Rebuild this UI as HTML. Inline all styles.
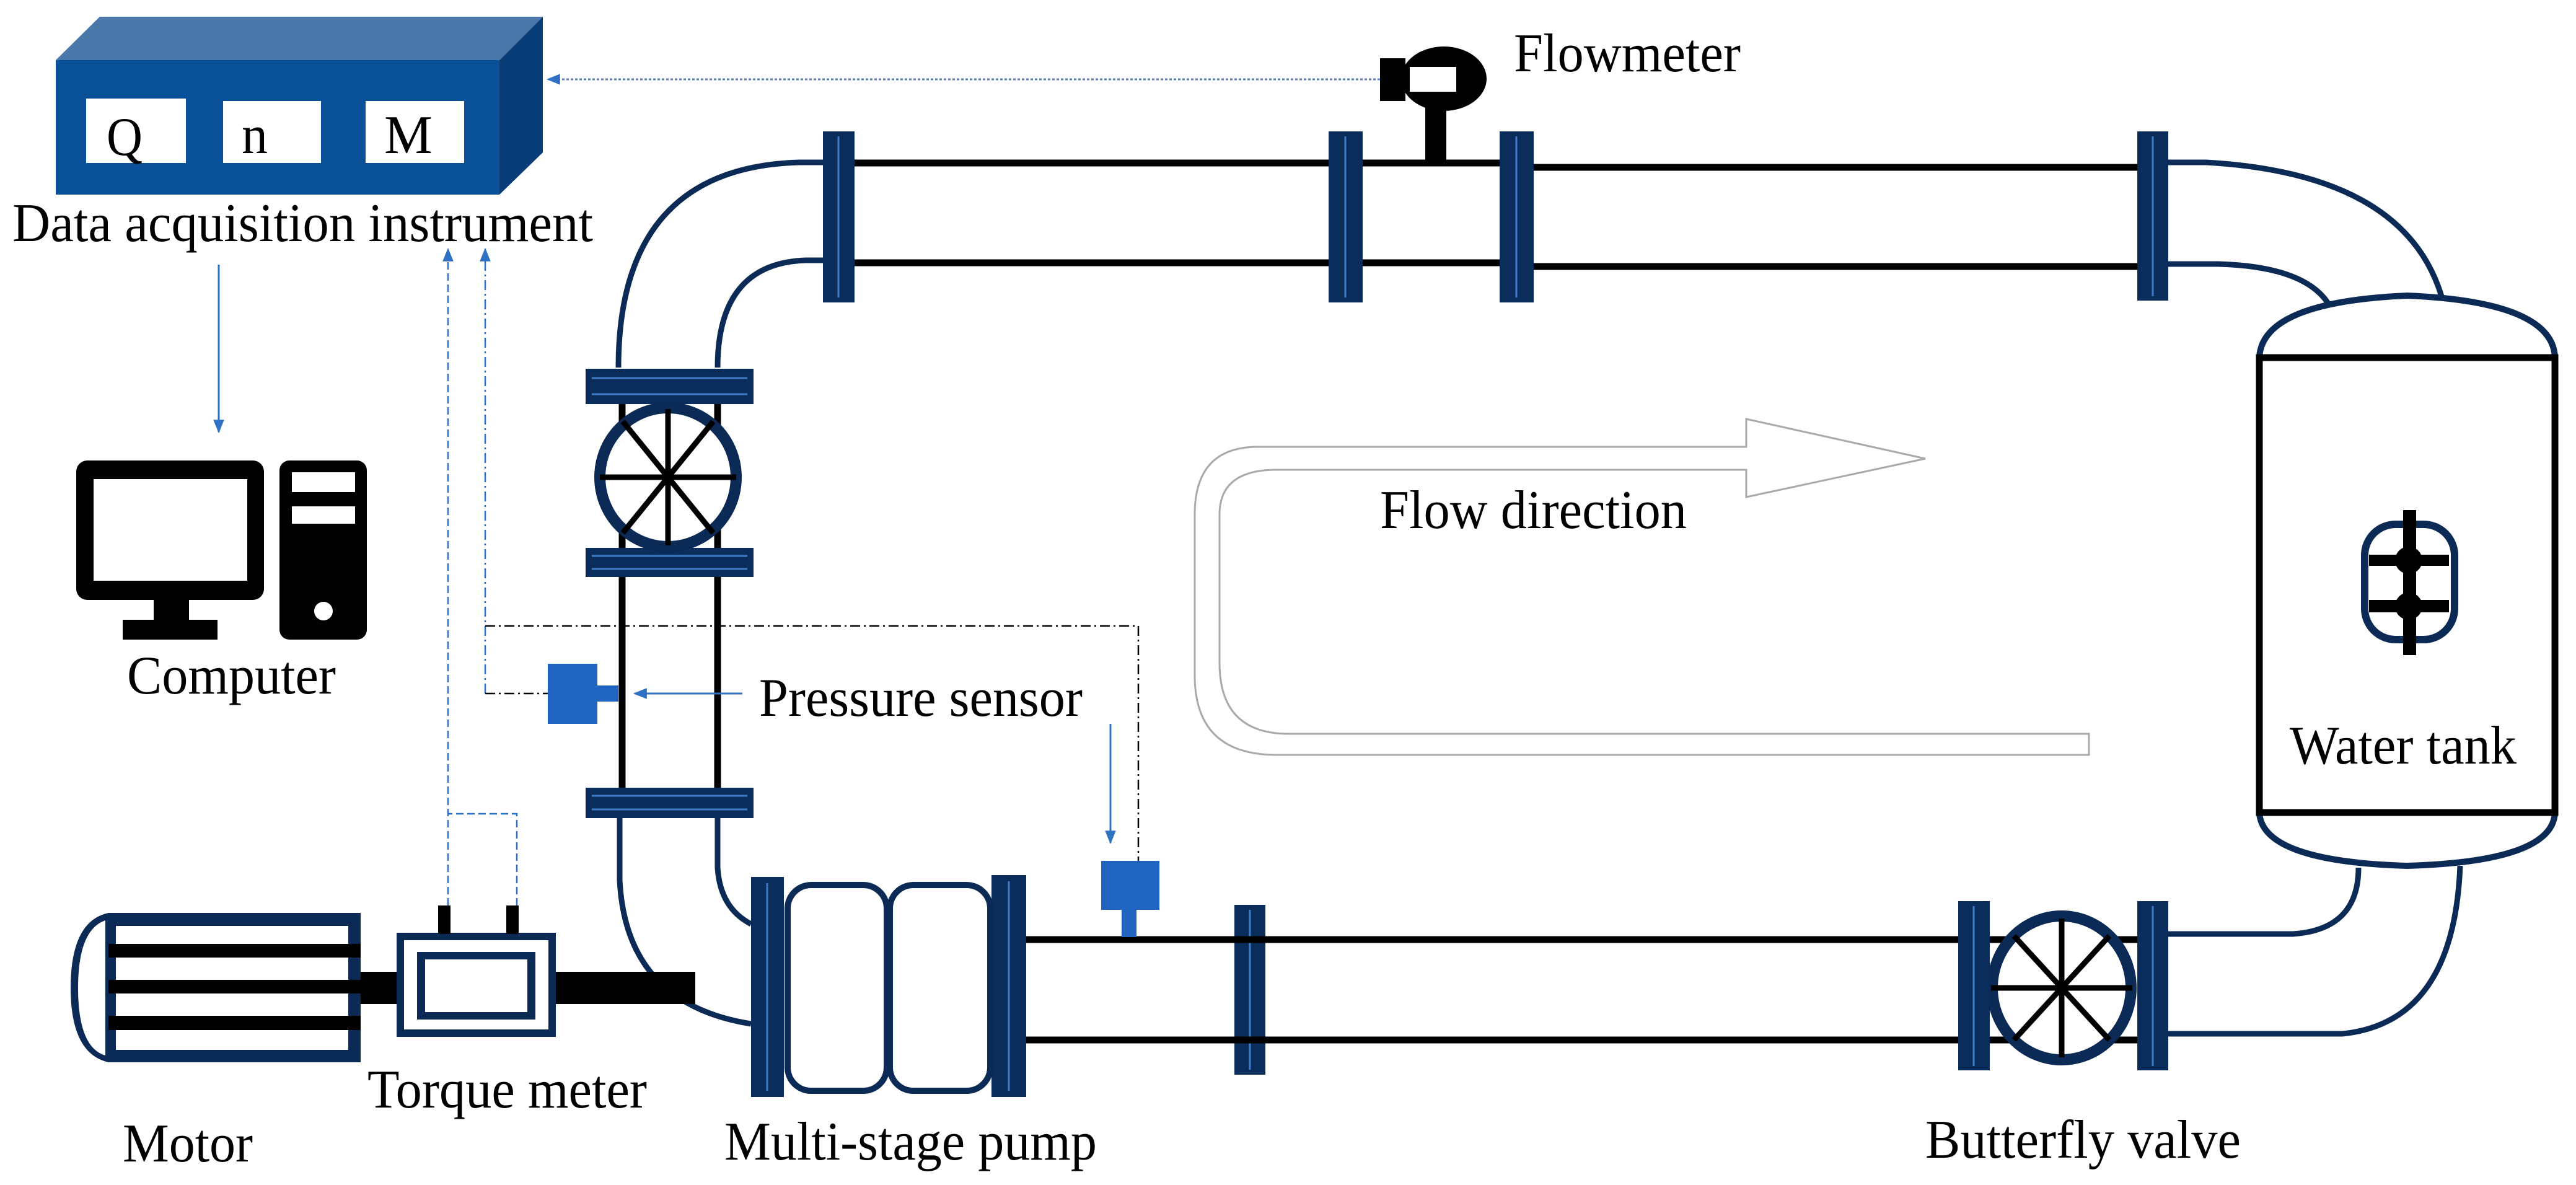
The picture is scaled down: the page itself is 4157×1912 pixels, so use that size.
<!DOCTYPE html>
<html><head><meta charset="utf-8"><style>html,body{margin:0;padding:0;background:#fff}svg{display:block}</style></head>
<body>
<svg xmlns="http://www.w3.org/2000/svg" width="4157" height="1912" viewBox="0 0 4157 1912">
<defs>
<marker id="ah" viewBox="0 0 10 10" refX="9" refY="5" markerWidth="22" markerHeight="22" markerUnits="userSpaceOnUse" orient="auto"><path d="M0,1 L10,5 L0,9 z" fill="#2f72c4"/></marker>
</defs>
<style>
text{font-family:"Liberation Serif",serif;fill:#000;font-size:88px}
.pipe{fill:none;stroke:#0b2a55;stroke-width:9}
.bl{stroke:#000;stroke-width:11;fill:none}
</style>

<!-- DAQ box -->
<polygon points="90,97 161,27 876,27 806,97" fill="#4a78ab"/>
<polygon points="806,97 876,27 876,246 806,314" fill="#083d78"/>
<rect x="90" y="97" width="716" height="217" fill="#0a519a"/>
<rect x="139" y="159" width="161" height="104" fill="#fff"/>
<rect x="360" y="163" width="158" height="100" fill="#fff"/>
<rect x="590" y="163" width="159" height="100" fill="#fff"/>
<text x="172" y="250" font-size="110" textLength="58" lengthAdjust="spacingAndGlyphs">Q</text>
<text x="390" y="247" font-size="110" textLength="42" lengthAdjust="spacingAndGlyphs">n</text>
<text x="620" y="247" font-size="110" textLength="78" lengthAdjust="spacingAndGlyphs">M</text>
<text x="20" y="389" font-size="92" textLength="937" lengthAdjust="spacingAndGlyphs">Data acquisition instrument</text>

<!-- arrow from flowmeter -->
<line x1="2227" y1="128" x2="884" y2="128" stroke="#5a7fb5" stroke-width="3" stroke-dasharray="4,3" marker-end="url(#ah)"/>
<!-- DAQ to computer -->
<line x1="353" y1="427" x2="353" y2="697" stroke="#2f72c4" stroke-width="3" marker-end="url(#ah)"/>

<!-- dashed verticals -->
<line x1="723" y1="1461" x2="723" y2="402" stroke="#2f72c4" stroke-width="2.5" stroke-dasharray="12,6" marker-end="url(#ah)"/>
<polyline points="834,1461 834,1313 723,1313" fill="none" stroke="#2f72c4" stroke-width="2.5" stroke-dasharray="12,6"/>
<line x1="783" y1="1119" x2="783" y2="402" stroke="#2f72c4" stroke-width="2.5" stroke-dasharray="16,6,3,6" marker-end="url(#ah)"/>
<polyline points="783,1119 884,1119" fill="none" stroke="#000" stroke-width="2.5" stroke-dasharray="16,6,3,6"/>
<polyline points="783,1010 1837,1010 1837,1389" fill="none" stroke="#000" stroke-width="2.5" stroke-dasharray="16,6,3,6"/>

<!-- Computer -->
<rect x="123" y="743" width="303" height="225" rx="18" fill="#000"/>
<rect x="151" y="773" width="248" height="164" fill="#fff"/>
<rect x="248" y="968" width="57" height="40" fill="#000"/>
<rect x="198" y="1000" width="153" height="32" fill="#000"/>
<rect x="451" y="743" width="141" height="289" rx="16" fill="#000"/>
<rect x="471" y="762" width="102" height="32" fill="#fff"/>
<rect x="471" y="817" width="102" height="28" fill="#fff"/>
<circle cx="522" cy="986" r="15" fill="#fff"/>
<text x="205" y="1119" textLength="337" lengthAdjust="spacingAndGlyphs">Computer</text>

<!-- Flowmeter -->
<rect x="2300" y="150" width="34" height="110" fill="#000"/>
<ellipse cx="2330" cy="127" rx="69" ry="52" fill="#000"/>
<rect x="2227" y="94" width="41" height="69" fill="#000"/>
<rect x="2275" y="108" width="75" height="40" fill="#fff"/>
<text x="2443" y="115" textLength="366" lengthAdjust="spacingAndGlyphs">Flowmeter</text>

<!-- Top pipe -->
<line class="bl" x1="1379" y1="263" x2="2420" y2="263"/>
<line class="bl" x1="2475" y1="270" x2="3449" y2="270"/>
<line class="bl" x1="1379" y1="424" x2="2420" y2="424"/>
<line class="bl" x1="2475" y1="430" x2="3449" y2="430"/>
<path class="pipe" d="M1328,262 L1290,262 Q998,270 998,593"/>
<path class="pipe" d="M1328,420 L1300,420 Q1158,425 1158,593"/>
<path class="pipe" d="M3499,262 L3560,262 Q3880,280 3940,478"/>
<path class="pipe" d="M3499,426 L3580,426 Q3720,430 3758,491"/>

<!-- vertical flanges -->
<g fill="#0a2d5c">
<rect x="1328" y="212" width="51" height="276"/>
<rect x="2144" y="212" width="55" height="276"/>
<rect x="2420" y="212" width="55" height="276"/>
<rect x="3449" y="212" width="50" height="273"/>
<rect x="1992" y="1460" width="50" height="274"/>
<rect x="1212" y="1415" width="53" height="355"/>
<rect x="1600" y="1412" width="56" height="358"/>
</g>
<g stroke="#3f7bc8" stroke-width="3">
<line x1="1353" y1="220" x2="1353" y2="480"/>
<line x1="2171" y1="220" x2="2171" y2="480"/>
<line x1="2447" y1="220" x2="2447" y2="480"/>
<line x1="3474" y1="220" x2="3474" y2="478"/>
<line x1="2017" y1="1468" x2="2017" y2="1726"/>
<line x1="1238" y1="1425" x2="1238" y2="1760"/>
<line x1="1628" y1="1422" x2="1628" y2="1760"/>
</g>

<!-- Left vertical pipe with valve -->
<line class="bl" x1="1004" y1="652" x2="1004" y2="1271"/>
<line class="bl" x1="1158" y1="652" x2="1158" y2="1271"/>
<rect x="945" y="595" width="271" height="57" fill="#0a2d5c"/>
<rect x="945" y="884" width="271" height="47" fill="#0a2d5c"/>
<rect x="945" y="1271" width="271" height="49" fill="#0a2d5c"/>
<g stroke="#3f7bc8" stroke-width="3">
<line x1="955" y1="610" x2="1206" y2="610"/><line x1="955" y1="636" x2="1206" y2="636"/>
<line x1="955" y1="897" x2="1206" y2="897"/><line x1="955" y1="918" x2="1206" y2="918"/>
<line x1="955" y1="1284" x2="1206" y2="1284"/><line x1="955" y1="1306" x2="1206" y2="1306"/>
</g>
<ellipse cx="1078" cy="770" rx="110" ry="112" fill="#fff" stroke="#0b2a55" stroke-width="18"/>
<g stroke="#000" stroke-width="9">
<line x1="1078" y1="660" x2="1078" y2="880"/>
<line x1="968" y1="770" x2="1188" y2="770"/>
<line x1="1005" y1="680" x2="1151" y2="860"/>
<line x1="1151" y1="680" x2="1005" y2="860"/>
</g>

<!-- Lower elbow into pump -->
<path class="pipe" d="M1000,1320 L1000,1420 Q1010,1620 1212,1652"/>
<path class="pipe" d="M1158,1320 L1158,1400 Q1162,1465 1212,1491"/>

<!-- Pressure sensor 1 -->
<rect x="884" y="1071" width="80" height="97" fill="#1e64c0"/>
<rect x="964" y="1106" width="34" height="26" fill="#1e64c0"/>
<line x1="1198" y1="1119" x2="1024" y2="1119" stroke="#2f72c4" stroke-width="3" marker-end="url(#ah)"/>
<text x="1225" y="1155" textLength="522" lengthAdjust="spacingAndGlyphs">Pressure sensor</text>

<!-- Flow direction arrow -->
<path d="M3371,1184 L2080,1184 Q1968,1184 1968,1070 L1968,830 Q1968,758 2060,758 L2818,758 L2818,802 L3107,740 L2818,676 L2818,721 L2030,721 Q1928,721 1928,830 L1928,1090 Q1928,1218 2060,1218 L3371,1218 Z" fill="none" stroke="#aaa" stroke-width="3"/>
<text x="2227" y="852" textLength="495" lengthAdjust="spacingAndGlyphs">Flow direction</text>

<!-- Water tank -->
<path d="M3646,577 Q3650,487 3885,477 Q4120,487 4123,577" fill="#fff" stroke="#0b2a55" stroke-width="10"/>
<path d="M3646,1311 Q3650,1390 3885,1397 Q4120,1390 4123,1311" fill="#fff" stroke="#0b2a55" stroke-width="10"/>
<rect x="3646" y="577" width="477" height="734" fill="#fff" stroke="#000" stroke-width="11"/>
<rect x="3816" y="846" width="145" height="186" rx="50" fill="none" stroke="#0b2a55" stroke-width="12"/>
<circle cx="3887" cy="904" r="22" fill="#000"/>
<circle cx="3887" cy="978" r="22" fill="#000"/>
<rect x="3823" y="895" width="129" height="18" fill="#000"/>
<rect x="3823" y="968" width="129" height="20" fill="#000"/>
<rect x="3878" y="823" width="21" height="234" fill="#000"/>
<text x="3695" y="1232" textLength="366" lengthAdjust="spacingAndGlyphs">Water tank</text>

<!-- Bottom pipe -->
<line class="bl" x1="1656" y1="1516" x2="3449" y2="1516"/>
<line class="bl" x1="1656" y1="1678" x2="3449" y2="1678"/>
<ellipse cx="3327" cy="1594" rx="112" ry="116" fill="#fff" stroke="#0b2a55" stroke-width="18"/>
<g stroke="#000" stroke-width="9">
<line x1="3327" y1="1482" x2="3327" y2="1706"/>
<line x1="3213" y1="1594" x2="3441" y2="1594"/>
<line x1="3250" y1="1510" x2="3404" y2="1678"/>
<line x1="3404" y1="1510" x2="3250" y2="1678"/>
</g>
<rect x="3160" y="1454" width="51" height="273" fill="#0a2d5c"/>
<rect x="3449" y="1454" width="50" height="273" fill="#0a2d5c"/>
<line x1="3185" y1="1462" x2="3185" y2="1720" stroke="#3f7bc8" stroke-width="3"/>
<line x1="3474" y1="1462" x2="3474" y2="1720" stroke="#3f7bc8" stroke-width="3"/>
<path class="pipe" d="M3499,1507 L3700,1507 Q3806,1500 3806,1400"/>
<path class="pipe" d="M3499,1668 L3780,1668 Q3960,1650 3970,1397"/>

<!-- Pressure sensor 2 -->
<rect x="1810" y="1460" width="24" height="52" fill="#1e64c0"/>
<rect x="1777" y="1389" width="94" height="79" fill="#1e64c0"/>
<line x1="1792" y1="1168" x2="1792" y2="1360" stroke="#2f72c4" stroke-width="3" marker-end="url(#ah)"/>

<!-- Pump body -->
<rect x="1271" y="1428" width="160" height="332" rx="38" fill="#fff" stroke="#0b2a55" stroke-width="10"/>
<rect x="1436" y="1428" width="162" height="332" rx="38" fill="#fff" stroke="#0b2a55" stroke-width="10"/>

<!-- Motor, shaft, torque meter -->
<rect x="562" y="1568" width="81" height="52" fill="#000"/>
<rect x="897" y="1568" width="225" height="52" fill="#000"/>
<path d="M175,1473 L582,1473 L582,1714 L175,1714 Q114,1700 114,1594 Q114,1486 175,1473 Z" fill="#0b2a55"/>
<path d="M170,1485 Q126,1500 126,1594 Q126,1690 170,1703 Z" fill="#fff"/>
<rect x="187" y="1494" width="375" height="200" fill="#fff"/>
<rect x="175" y="1523" width="407" height="22" fill="#000"/>
<rect x="175" y="1581" width="407" height="22" fill="#000"/>
<rect x="175" y="1639" width="407" height="23" fill="#000"/>
<rect x="640" y="1505" width="257" height="168" fill="#0b2a55"/>
<rect x="652" y="1517" width="233" height="144" fill="#fff"/>
<rect x="673" y="1536" width="191" height="109" fill="#0b2a55"/>
<rect x="686" y="1548" width="165" height="85" fill="#fff"/>
<rect x="707" y="1461" width="20" height="46" fill="#000"/>
<rect x="817" y="1461" width="20" height="46" fill="#000"/>

<!-- Labels -->
<text x="593" y="1787" textLength="451" lengthAdjust="spacingAndGlyphs">Torque meter</text>
<text x="198" y="1874" textLength="210" lengthAdjust="spacingAndGlyphs">Motor</text>
<text x="1169" y="1871" textLength="601" lengthAdjust="spacingAndGlyphs">Multi-stage pump</text>
<text x="3107" y="1868" textLength="509" lengthAdjust="spacingAndGlyphs">Butterfly valve</text>
</svg>
</body></html>
